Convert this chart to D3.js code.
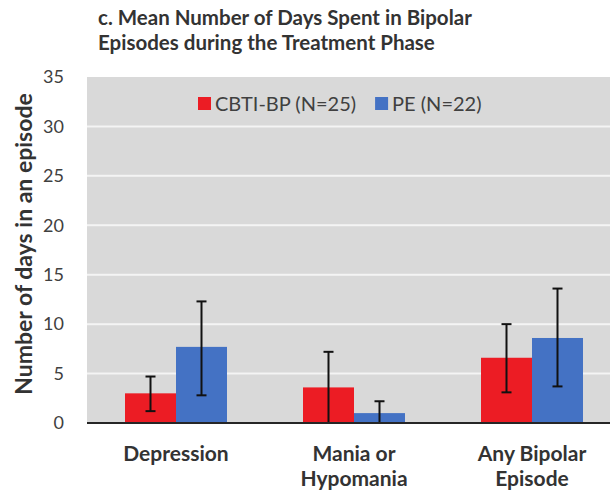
<!DOCTYPE html>
<html>
<head>
<meta charset="utf-8">
<script src="https://cdn.jsdelivr.net/npm/d3@7"></script>
<style>
  body { margin: 0; background: #fff; }
  svg { display: block; font-family: Lato, "Open Sans", sans-serif; }
</style>
</head>
<body>
<svg id="chart" width="610" height="498"></svg>
<script>
// chart data
const categories = ["Depression", "Mania or Hypomania", "Any Bipolar Episode"];
const categoryLines = [["Depression"], ["Mania or", "Hypomania"], ["Any Bipolar", "Episode"]];
const seriesNames = ["CBTI-BP (N=25)", "PE (N=22)"];
const cbtiMean = [3.0, 3.6, 6.6];
const cbtiLow = [1.2, 0, 3.1];
const cbtiHigh = [4.7, 7.2, 10.0];
const peMean = [7.7, 1.0, 8.6];
const peLow = [2.8, 0, 3.7];
const peHigh = [12.3, 2.2, 13.6];
const yTicks = [0, 5, 10, 15, 20, 25, 30, 35];
const titleLines = ["c. Mean Number of Days Spent in Bipolar", "Episodes during the Treatment Phase"];
const yLabel = "Number of days in an episode";

const colors = ["#ec1c24", "#4472c4"];

const svg = d3.select("#chart");
const W = 610, H = 498;
const plot = { left: 87, top: 77, bottom: 423 };

// build rows for d3
const rows = categories.map((c, i) => ({
    cat: c,
    values: [
        { s: 0, mean: cbtiMean[i], low: cbtiLow[i], high: cbtiHigh[i] },
        { s: 1, mean: peMean[i], low: peLow[i], high: peHigh[i] }
    ]
}));

const x0 = d3.scaleBand()
    .domain(categories)
    .range([plot.left, plot.left + 3 * 178])
    .paddingInner(0.427)
    .paddingOuter(0.2135);

const x1 = d3.scaleBand()
    .domain([0, 1])
    .range([0, x0.bandwidth()]);

const y = d3.scaleLinear()
    .domain([0, 35])
    .range([plot.bottom, plot.top]);

// plot background
svg.append("rect")
    .attr("x", plot.left)
    .attr("y", plot.top)
    .attr("width", W - plot.left)
    .attr("height", plot.bottom - plot.top)
    .attr("fill", "#d9d9d9");

// gridlines
svg.append("g")
    .selectAll("line")
    .data(yTicks.filter(t => t > 0 && t < 35))
    .enter().append("line")
    .attr("x1", plot.left)
    .attr("x2", W)
    .attr("y1", d => y(d))
    .attr("y2", d => y(d))
    .attr("stroke", "#f4f4f4")
    .attr("stroke-width", 2);

// y axis labels
const yAxis = svg.append("g")
    .attr("transform", `translate(${plot.left},0)`)
    .call(d3.axisLeft(y).tickValues(yTicks).tickSize(0).tickPadding(23));
yAxis.select(".domain").remove();
yAxis.selectAll("text")
    .attr("font-family", "Lato, sans-serif")
    .attr("font-size", 18)
    .attr("fill", "#404040");

// bars
const groups = svg.append("g")
    .selectAll("g")
    .data(rows)
    .enter().append("g")
    .attr("transform", d => `translate(${x0(d.cat)},0)`);

groups.selectAll("rect")
    .data(d => d.values)
    .enter().append("rect")
    .attr("x", d => x1(d.s))
    .attr("y", d => y(d.mean))
    .attr("width", x1.bandwidth())
    .attr("height", d => y(0) - y(d.mean))
    .attr("fill", d => colors[d.s]);

// error bars
const err = groups.selectAll("g.err")
    .data(d => d.values)
    .enter().append("g")
    .attr("class", "err")
    .attr("stroke", "#111")
    .attr("stroke-width", 2);

err.append("line")
    .attr("x1", d => x1(d.s) + x1.bandwidth() / 2)
    .attr("x2", d => x1(d.s) + x1.bandwidth() / 2)
    .attr("y1", d => y(d.low))
    .attr("y2", d => y(d.high));

err.append("line")
    .attr("x1", d => x1(d.s) + x1.bandwidth() / 2 - 5)
    .attr("x2", d => x1(d.s) + x1.bandwidth() / 2 + 5)
    .attr("y1", d => y(d.high))
    .attr("y2", d => y(d.high));

err.filter(d => d.low > 0).append("line")
    .attr("x1", d => x1(d.s) + x1.bandwidth() / 2 - 5)
    .attr("x2", d => x1(d.s) + x1.bandwidth() / 2 + 5)
    .attr("y1", d => y(d.low))
    .attr("y2", d => y(d.low));

// baseline axis
svg.append("line")
    .attr("x1", plot.left)
    .attr("x2", W)
    .attr("y1", y(0))
    .attr("y2", y(0))
    .attr("stroke", "#262626")
    .attr("stroke-width", 2);

// category labels
const catLabels = svg.append("g")
    .selectAll("text")
    .data(categories)
    .enter().append("text")
    .attr("x", d => x0(d) + x0.bandwidth() / 2)
    .attr("y", 461)
    .attr("text-anchor", "middle")
    .attr("font-size", 21)
    .attr("font-weight", "bold")
    .attr("fill", "#333");

catLabels.selectAll("tspan")
    .data((d, i) => categoryLines[i])
    .enter().append("tspan")
    .attr("x", function() { return d3.select(this.parentNode).attr("x"); })
    .attr("dy", (d, i) => i === 0 ? 0 : 25)
    .text(d => d);

// title
svg.append("text")
    .attr("x", 98)
    .attr("y", 25)
    .attr("font-size", 20.5)
    .attr("font-weight", "bold")
    .attr("fill", "#333")
    .selectAll("tspan")
    .data(titleLines)
    .enter().append("tspan")
    .attr("x", 98)
    .attr("dy", (d, i) => i === 0 ? 0 : 25)
    .text(d => d);

// y axis title
svg.append("text")
    .attr("transform", `translate(32,244) rotate(-90)`)
    .attr("text-anchor", "middle")
    .attr("font-size", 23)
    .attr("font-weight", "bold")
    .attr("fill", "#333")
    .text(yLabel);

// legend
const legend = svg.append("g")
    .attr("transform", "translate(198,97)");

let lx = 0;
seriesNames.forEach((name, i) => {
    legend.append("rect")
        .attr("x", lx)
        .attr("y", 0)
        .attr("width", 13)
        .attr("height", 13)
        .attr("fill", colors[i]);
    const t = legend.append("text")
        .attr("x", lx + 17)
        .attr("y", 14)
        .attr("font-size", 20)
        .attr("fill", "#404040")
        .text(name);
    lx += 17 + t.node().getComputedTextLength() + 19;
});
</script>
</body>
</html>
